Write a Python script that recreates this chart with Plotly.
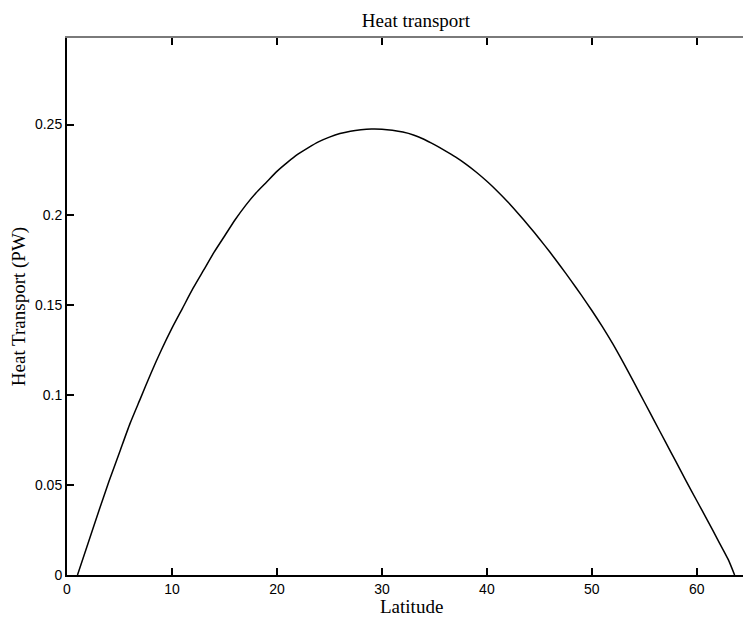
import plotly.graph_objects as go

# Meridional heat transport vs latitude
latitude = [1, 2, 3, 4, 5, 6, 7, 8, 9, 10, 11, 12, 13, 14, 15, 16, 17, 18, 19, 20,
            21, 22, 23, 24, 25, 26, 27, 28, 29, 30, 31, 32, 33, 34, 35, 36, 37, 38,
            39, 40, 41, 42, 43, 44, 45, 46, 47, 48, 49, 50, 51, 52, 53, 54, 55, 56,
            57, 58, 59, 60, 61, 62, 63, 63.6]
transport_pw = [0.000, 0.0175, 0.035, 0.052, 0.068, 0.084, 0.098, 0.112, 0.125, 0.137,
                0.148, 0.159, 0.169, 0.179, 0.188, 0.197, 0.205, 0.212, 0.218, 0.224,
                0.229, 0.2335, 0.2372, 0.2405, 0.2430, 0.2450, 0.2463, 0.2471, 0.2475, 0.2474,
                0.2468, 0.2458, 0.2442, 0.2418, 0.2388, 0.2355, 0.2320, 0.2280, 0.2235, 0.2185,
                0.2130, 0.2070, 0.2005, 0.1937, 0.1866, 0.1792, 0.1715, 0.1635, 0.1553, 0.1468,
                0.1378, 0.1282, 0.1178, 0.1070, 0.0960, 0.0850, 0.0740, 0.0630, 0.0520, 0.0412,
                0.0305, 0.0195, 0.0085, 0.000]

x_ticks = [0, 10, 20, 30, 40, 50, 60]
y_ticks = [0, 0.05, 0.1, 0.15, 0.2, 0.25]
y_tick_text = ["0", "0.05", "0.1", "0.15", "0.2", "0.25"]

x_range = [0, 64.4]
y_range = [0, 0.298]

serif = "Liberation Serif, Times New Roman, serif"
sans = "Liberation Sans, Arial, sans-serif"

fig = go.Figure()
fig.add_trace(go.Scatter(x=latitude, y=transport_pw, mode="lines",
                         line=dict(color="black", width=1.5, shape="spline", smoothing=0.6),
                         showlegend=False, hoverinfo="skip"))
# invisible trace so the top axis gets drawn
fig.add_trace(go.Scatter(x=[latitude[0]], y=[transport_pw[0]], xaxis="x2",
                         mode="markers", marker=dict(opacity=0),
                         showlegend=False, hoverinfo="skip"))

fig.update_layout(
    width=744, height=623,
    margin=dict(l=67, r=1, t=38, b=48),
    paper_bgcolor="white", plot_bgcolor="white",
    title=dict(text="Heat transport", x=0.559, xanchor="center", y=0.968, yanchor="middle",
               font=dict(family=serif, size=19, color="black")),
    xaxis=dict(range=x_range, tickvals=x_ticks, ticks="inside", ticklen=7,
               tickcolor="black", tickwidth=1.5, showgrid=False, zeroline=False,
               showline=True, linecolor="black", linewidth=2,
               tickfont=dict(family=sans, size=14, color="black")),
    xaxis2=dict(range=x_range, overlaying="x", side="top", tickvals=x_ticks,
                ticks="inside", ticklen=7, tickcolor="black", tickwidth=1.5,
                showticklabels=False, showgrid=False, zeroline=False,
                showline=True, linecolor="#7a7a7a", linewidth=1.5),
    yaxis=dict(range=y_range, tickvals=y_ticks, ticktext=y_tick_text,
               ticks="inside", ticklen=7, tickcolor="black", tickwidth=1.5,
               showgrid=False, zeroline=False, showline=True, linecolor="black",
               linewidth=2, tickfont=dict(family=sans, size=14, color="black"),
               title=dict(text="Heat Transport (PW)", standoff=4,
                          font=dict(family=serif, size=19, color="black"))),
    annotations=[dict(text="Latitude", xref="paper", yref="paper",
                      x=0.509, y=-31 / 537, xanchor="center", yanchor="middle",
                      showarrow=False,
                      font=dict(family=serif, size=19, color="black"))],
)

fig.write_html("out.html")
